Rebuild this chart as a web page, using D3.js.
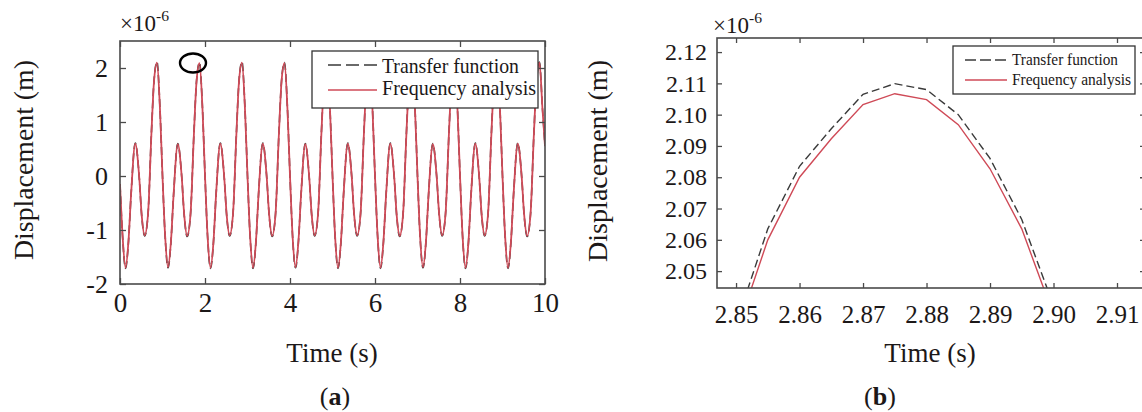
<!DOCTYPE html>
<html>
<head>
<meta charset="utf-8">
<script src="https://cdn.jsdelivr.net/npm/d3@7"></script>
<style>
  html, body { margin: 0; padding: 0; background: #fff; }
  svg { display: block; }
  text { font-family: "Liberation Serif", "Times New Roman", serif; fill: #1c1818; }
</style>
</head>
<body>
<svg id="fig" width="1142" height="412"></svg>
<script>
// ---- Panel (a): full 10 s response (values in 1e-6 m) ----
const timeA = [
  0.00,0.06,0.13,0.20,0.26,0.36,0.45,0.51,0.58,0.66,0.74,0.80,0.87,0.94,
  1.00,1.06,1.13,1.20,1.26,1.36,1.45,1.51,1.58,1.66,1.74,1.80,1.87,1.94,
  2.00,2.06,2.13,2.20,2.26,2.36,2.45,2.51,2.58,2.66,2.74,2.80,2.87,2.94,
  3.00,3.06,3.13,3.20,3.26,3.36,3.45,3.51,3.58,3.66,3.74,3.80,3.87,3.94,
  4.00,4.06,4.13,4.20,4.26,4.36,4.45,4.51,4.58,4.66,4.74,4.80,4.87,4.94,
  5.00,5.06,5.13,5.20,5.26,5.36,5.45,5.51,5.58,5.66,5.74,5.80,5.87,5.94,
  6.00,6.06,6.13,6.20,6.26,6.36,6.45,6.51,6.58,6.66,6.74,6.80,6.87,6.94,
  7.00,7.06,7.13,7.20,7.26,7.36,7.45,7.51,7.58,7.66,7.74,7.80,7.87,7.94,
  8.00,8.06,8.13,8.20,8.26,8.36,8.45,8.51,8.58,8.66,8.74,8.80,8.87,8.94,
  9.00,9.06,9.13,9.20,9.26,9.36,9.45,9.51,9.58,9.66,9.74,9.80,9.87,9.94,
  10.00
];
const freqA = [
  -0.15,-1.10,-1.70,-1.20,-0.35,0.60,0.00,-0.72,-1.10,-0.70,0.80,1.75,2.10,1.25,
  0.00,-1.08,-1.69,-1.20,-0.36,0.59,0.01,-0.71,-1.11,-0.70,0.79,1.74,2.09,1.26,
  0.01,-1.10,-1.70,-1.21,-0.35,0.60,0.00,-0.72,-1.10,-0.69,0.80,1.75,2.10,1.25,
  0.00,-1.09,-1.70,-1.20,-0.34,0.60,0.00,-0.72,-1.11,-0.70,0.80,1.74,2.09,1.24,
  0.00,-1.10,-1.69,-1.19,-0.35,0.59,0.00,-0.71,-1.10,-0.70,0.81,1.75,2.10,1.25,
  0.01,-1.10,-1.70,-1.20,-0.35,0.60,0.01,-0.72,-1.10,-0.70,0.80,1.75,2.09,1.25,
  0.00,-1.09,-1.70,-1.20,-0.36,0.60,0.00,-0.72,-1.11,-0.71,0.80,1.74,2.10,1.26,
  0.00,-1.10,-1.69,-1.20,-0.35,0.59,0.00,-0.71,-1.10,-0.70,0.79,1.75,2.09,1.25,
  0.01,-1.10,-1.70,-1.21,-0.35,0.60,0.00,-0.72,-1.10,-0.70,0.80,1.75,2.10,1.25,
  0.00,-1.09,-1.70,-1.20,-0.35,0.60,0.00,-0.72,-1.11,-0.70,0.80,1.74,2.10,1.25,
  0.55
];
const transA = [
  -0.15,-1.11,-1.71,-1.21,-0.35,0.61,0.00,-0.73,-1.11,-0.70,0.81,1.76,2.11,1.26,
  0.00,-1.09,-1.70,-1.21,-0.36,0.60,0.01,-0.72,-1.12,-0.70,0.80,1.75,2.10,1.27,
  0.01,-1.11,-1.71,-1.22,-0.35,0.61,0.00,-0.73,-1.11,-0.69,0.81,1.76,2.11,1.26,
  0.00,-1.10,-1.71,-1.21,-0.34,0.61,0.00,-0.73,-1.12,-0.70,0.81,1.75,2.10,1.25,
  0.00,-1.11,-1.70,-1.20,-0.35,0.60,0.00,-0.72,-1.11,-0.70,0.82,1.76,2.11,1.26,
  0.01,-1.11,-1.71,-1.21,-0.35,0.61,0.01,-0.73,-1.11,-0.70,0.81,1.76,2.10,1.26,
  0.00,-1.10,-1.71,-1.21,-0.36,0.61,0.00,-0.73,-1.12,-0.71,0.81,1.75,2.11,1.27,
  0.00,-1.11,-1.70,-1.21,-0.35,0.60,0.00,-0.72,-1.11,-0.70,0.80,1.76,2.10,1.26,
  0.01,-1.11,-1.71,-1.22,-0.35,0.61,0.00,-0.73,-1.11,-0.70,0.81,1.76,2.11,1.26,
  0.00,-1.10,-1.71,-1.21,-0.35,0.61,0.00,-0.73,-1.12,-0.70,0.81,1.75,2.11,1.26,
  0.56
];
const xTicksA = [0, 2, 4, 6, 8, 10];
const yTicksA = [-2, -1, 0, 1, 2];

// ---- Panel (b): close-up of the peak near t = 2.875 s ----
const timeB  = [2.850, 2.855, 2.860, 2.865, 2.870, 2.875, 2.880, 2.885, 2.890, 2.895, 2.900];
const freqB  = [2.0300, 2.0600, 2.0800, 2.0923, 2.1032, 2.1067, 2.1048, 2.0968, 2.0827, 2.0635, 2.0360];
const transB = [2.0330, 2.0635, 2.0835, 2.0955, 2.1065, 2.1099, 2.1080, 2.1000, 2.0860, 2.0665, 2.0390];
const xTicksB = [2.85, 2.86, 2.87, 2.88, 2.89, 2.90, 2.91];
const yTicksB = [2.05, 2.06, 2.07, 2.08, 2.09, 2.10, 2.11, 2.12];

const seriesNames = ["Transfer function", "Frequency analysis"];

// ---- styling ----
const SERIF = '"Liberation Serif", "Times New Roman", serif';
const RED = "#cf4a57";
const DARK = "#3a3a3a";
const AXIS = "#4a4a4a";

// plain hyphen for negatives, as in the printed figure
const hyph = f => v => f(v).replace("\u2212", "-");

const svg = d3.select("#fig");

// Box with inward ticks on all four sides, MATLAB style
function drawFrame(g, x, y, xTicks, yTicks, fmtX, fmtY, o) {
  const [x0, x1] = x.range();
  const [y1, y0] = y.range();
  const tl = o.tickLen;

  const bottom = g.append("g").attr("transform", `translate(0,${y1})`)
    .call(d3.axisBottom(x).tickValues(xTicks).tickFormat(fmtX)
      .tickSizeInner(-tl).tickSizeOuter(0).tickPadding(o.xPad));
  const left = g.append("g").attr("transform", `translate(${x0},0)`)
    .call(d3.axisLeft(y).tickValues(yTicks).tickFormat(fmtY)
      .tickSizeInner(-tl).tickSizeOuter(0).tickPadding(o.yPad));
  const top = g.append("g").attr("transform", `translate(0,${y0})`)
    .call(d3.axisTop(x).tickValues(xTicks).tickFormat("")
      .tickSizeInner(-tl).tickSizeOuter(0));
  const right = g.append("g").attr("transform", `translate(${x1},0)`)
    .call(d3.axisRight(y).tickValues(yTicks).tickFormat("")
      .tickSizeInner(-tl).tickSizeOuter(0));

  [bottom, left, top, right].forEach(a => {
    a.attr("font-family", SERIF);
    a.select(".domain").remove();
    a.selectAll(".tick line").attr("stroke", AXIS).attr("stroke-width", 1.3);
    a.selectAll("text").style("font-family", SERIF).attr("fill", "#1c1818");
  });
  bottom.selectAll("text").attr("font-size", o.xFont);
  left.selectAll("text").attr("font-size", o.yFont);

  g.append("rect")
    .attr("x", x0).attr("y", y0)
    .attr("width", x1 - x0).attr("height", y1 - y0)
    .attr("fill", "none").attr("stroke", AXIS).attr("stroke-width", 1.6);
}

function exponent(g, xPos, yPos, size) {
  const t = g.append("text").attr("x", xPos).attr("y", yPos).attr("font-size", size);
  t.append("tspan").text("\u00d710");
  t.append("tspan").attr("font-size", size * 0.68).attr("dy", -size * 0.42).text("-6");
}

function legend(g, o) {
  g.append("rect")
    .attr("x", o.x).attr("y", o.y).attr("width", o.w).attr("height", o.h)
    .attr("fill", "#fff").attr("stroke", "#333").attr("stroke-width", 1.3);
  const styles = [
    { stroke: DARK, dash: o.dash, width: 1.5 },
    { stroke: RED, dash: null, width: 1.5 }
  ];
  seriesNames.forEach((name, i) => {
    g.append("line")
      .attr("x1", o.lx0).attr("x2", o.lx1)
      .attr("y1", o.lineY[i]).attr("y2", o.lineY[i])
      .attr("stroke", styles[i].stroke).attr("stroke-width", styles[i].width)
      .attr("stroke-dasharray", styles[i].dash);
    g.append("text")
      .attr("x", o.tx).attr("y", o.textY[i])
      .attr("font-size", o.font)
      .attr("textLength", o.textLen[i]).attr("lengthAdjust", "spacingAndGlyphs")
      .text(name);
  });
}

// ================= Panel (a) =================
{
  const g = svg.append("g");
  const x = d3.scaleLinear().domain([0, 10]).range([120, 545]);
  const y = d3.scaleLinear().domain([-2, 2.5]).range([284, 41]);

  g.append("clipPath").attr("id", "clipA")
    .append("rect").attr("x", 120).attr("y", 41).attr("width", 425).attr("height", 243);

  const line = d3.line().curve(d3.curveMonotoneX)
    .x((d, i) => x(timeA[i])).y(d => y(d));

  const plot = g.append("g").attr("clip-path", "url(#clipA)");
  plot.append("path").datum(transA).attr("d", line)
    .attr("fill", "none").attr("stroke", DARK).attr("stroke-width", 1.6)
    .attr("stroke-dasharray", "8,4");
  plot.append("path").datum(freqA).attr("d", line)
    .attr("fill", "none").attr("stroke", RED).attr("stroke-width", 1.8);

  drawFrame(g, x, y, xTicksA, yTicksA, hyph(d3.format("d")), hyph(d3.format("d")),
    { tickLen: 6, xPad: 9, yPad: 12, xFont: 27, yFont: 26 });

  exponent(g, 120, 31, 23);

  legend(g, {
    x: 312, y: 51, w: 226, h: 57,
    lx0: 328, lx1: 377, lineY: [65, 90], dash: "13,5",
    tx: 382, textY: [73, 95], font: 22, textLen: [137, 154]
  });

  // marker around the peak enlarged in panel (b)
  g.append("ellipse")
    .attr("cx", 193).attr("cy", 63).attr("rx", 13).attr("ry", 9.5)
    .attr("fill", "none").attr("stroke", "#000").attr("stroke-width", 2.4);

  g.append("text").attr("x", 332).attr("y", 362)
    .attr("text-anchor", "middle").attr("font-size", 27).text("Time (s)");
  g.append("text").attr("transform", "translate(33,160) rotate(-90)")
    .attr("text-anchor", "middle").attr("font-size", 28)
    .attr("textLength", 200).attr("lengthAdjust", "spacingAndGlyphs")
    .text("Displacement (m)");

  const cap = g.append("text").attr("x", 335).attr("y", 405)
    .attr("text-anchor", "middle").attr("font-size", 26);
  cap.append("tspan").text("(");
  cap.append("tspan").attr("font-weight", "bold").text("a");
  cap.append("tspan").text(")");
}

// ================= Panel (b) =================
{
  const g = svg.append("g");
  const x = d3.scaleLinear().domain([2.847, 2.91441]).range([717, 1145]);
  const y = d3.scaleLinear().domain([2.0446, 2.1245]).range([288, 38]);

  g.append("clipPath").attr("id", "clipB")
    .append("rect").attr("x", 717).attr("y", 38).attr("width", 428).attr("height", 250);

  const lineT = d3.line().x((d, i) => x(timeB[i])).y(d => y(d));

  const plot = g.append("g").attr("clip-path", "url(#clipB)");
  plot.append("path").datum(transB).attr("d", lineT)
    .attr("fill", "none").attr("stroke", DARK).attr("stroke-width", 1.4)
    .attr("stroke-dasharray", "8,4");
  plot.append("path").datum(freqB).attr("d", lineT)
    .attr("fill", "none").attr("stroke", RED).attr("stroke-width", 1.4);

  drawFrame(g, x, y, xTicksB, yTicksB, d3.format(".2f"), d3.format(".2f"),
    { tickLen: 5, xPad: 17, yPad: 10, xFont: 25, yFont: 24 });

  exponent(g, 713, 33, 23);

  legend(g, {
    x: 953, y: 46, w: 182, h: 48,
    lx0: 965, lx1: 1007, lineY: [60, 80], dash: "11,4",
    tx: 1012, textY: [65, 85], font: 17, textLen: [106, 119]
  });

  g.append("text").attr("x", 930).attr("y", 362)
    .attr("text-anchor", "middle").attr("font-size", 27).text("Time (s)");
  g.append("text").attr("transform", "translate(607,161) rotate(-90)")
    .attr("text-anchor", "middle").attr("font-size", 28)
    .attr("textLength", 202).attr("lengthAdjust", "spacingAndGlyphs")
    .text("Displacement (m)");

  const cap = g.append("text").attr("x", 880).attr("y", 405)
    .attr("text-anchor", "middle").attr("font-size", 26);
  cap.append("tspan").text("(");
  cap.append("tspan").attr("font-weight", "bold").text("b");
  cap.append("tspan").text(")");
}
</script>
</body>
</html>
